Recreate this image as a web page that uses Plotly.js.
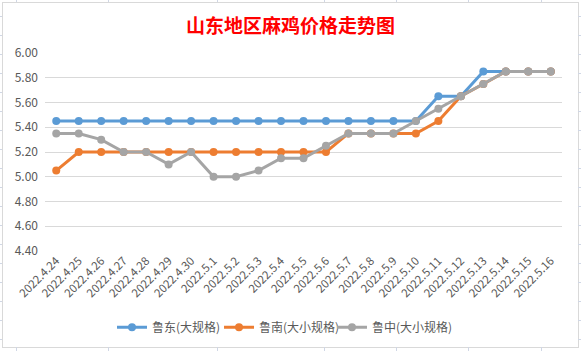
<!DOCTYPE html>
<html>
<head>
<meta charset="utf-8">
<script src="https://cdn.plot.ly/plotly-3.0.1.min.js"></script>
<style>
html,body{margin:0;padding:0;background:#fff;}
#wrap{position:relative;width:581px;height:351px;overflow:hidden;}
#chart{position:absolute;left:0;top:0;width:581px;height:351px;}
#frame{position:absolute;left:2px;top:2px;width:575px;height:344px;border:1px solid #d9d9d9;pointer-events:none;}
.st{position:absolute;background:#d0d7e5;}
</style>
</head>
<body>
<div id="wrap">
<div id="chart"></div>
<div id="frame"></div>
</div>
<script>
const dates = ["2022.4.24","2022.4.25","2022.4.26","2022.4.27","2022.4.28","2022.4.29","2022.4.30",
  "2022.5.1","2022.5.2","2022.5.3","2022.5.4","2022.5.5","2022.5.6","2022.5.7","2022.5.8","2022.5.9",
  "2022.5.10","2022.5.11","2022.5.12","2022.5.13","2022.5.14","2022.5.15","2022.5.16"];
const seriesNames = ["鲁东(大规格)","鲁南(大小规格)","鲁中(大小规格)"];
const ludong = [5.45,5.45,5.45,5.45,5.45,5.45,5.45,5.45,5.45,5.45,5.45,5.45,5.45,5.45,5.45,5.45,5.45,5.65,5.65,5.85,5.85,5.85,5.85];
const lunan  = [5.05,5.20,5.20,5.20,5.20,5.20,5.20,5.20,5.20,5.20,5.20,5.20,5.20,5.35,5.35,5.35,5.35,5.45,5.65,5.75,5.85,5.85,5.85];
const luzhong= [5.35,5.35,5.30,5.20,5.20,5.10,5.20,5.00,5.00,5.05,5.15,5.15,5.25,5.35,5.35,5.35,5.45,5.55,5.65,5.75,5.85,5.85,5.85];
const yTicks = [4.40,4.60,4.80,5.00,5.20,5.40,5.60,5.80,6.00];
const colors = ["#5B9BD5","#ED7D31","#A5A5A5"];

// decorative spreadsheet grid stubs outside the chart frame
(function(){
  const wrap = document.getElementById('wrap');
  const xs = [16,108,217,324,396,468,541];
  xs.forEach(x=>{
    [[0,2],[347,4]].forEach(([t,h])=>{
      const d=document.createElement('div');d.className='st';
      d.style.left=x+'px';d.style.top=t+'px';d.style.width='1px';d.style.height=h+'px';wrap.appendChild(d);
    });
  });
  for(let y=16;y<351;y+=19){
    [[0,2],[578,3]].forEach(([l,w])=>{
      const d=document.createElement('div');d.className='st';
      d.style.left=l+'px';d.style.top=y+'px';d.style.width=w+'px';d.style.height='1px';wrap.appendChild(d);
    });
  }
})();

const legendIds = ['legend','legend2','legend3'];
const ys = [ludong, lunan, luzhong];
const traces = ys.map((v,i)=>({
  type:'scatter', mode:'lines+markers', x:dates, y:v, name:seriesNames[i],
  legend:legendIds[i],
  line:{color:colors[i], width:3},
  marker:{color:colors[i], size:8, symbol:'circle'}
}));

const legendX = [0.1296, 0.3366, 0.5551];
const legBase = (x)=>({orientation:'h', x:x, xanchor:'left', yref:'container', y:0.068, yanchor:'middle',
    font:{size:12, color:'#595959'}, itemwidth:30, bgcolor:'rgba(0,0,0,0)'});

const layout = {
  width:581, height:351,
  margin:{l:45, r:19, t:53, b:100},
  paper_bgcolor:'rgba(0,0,0,0)', plot_bgcolor:'rgba(0,0,0,0)',
  font:{family:'"Noto Sans CJK SC", "Noto Sans", sans-serif', color:'#595959'},
  title:{text:'<b>山东地区麻鸡价格走势图</b>', x:0.5, xanchor:'center', y:0.925, yanchor:'middle',
    font:{family:'"Noto Sans CJK SC", serif', size:19, color:'#FF0000'}},
  xaxis:{type:'category', range:[-0.5,22.5], tickangle:-45, showgrid:false, zeroline:false,
    showline:false, ticks:'', tickfont:{size:11.5, color:'#595959'}, fixedrange:true, automargin:false},
  yaxis:{range:[4.40,6.00], tickvals:yTicks, ticktext:yTicks.map(v=>v.toFixed(2)),
    showgrid:true, gridcolor:'#d9d9d9', gridwidth:1, zeroline:false, showline:false, ticks:'',
    tickfont:{size:12, color:'#595959'}, ticklabelstandoff:6, fixedrange:true, automargin:false},
  legend:legBase(legendX[0]),
  legend2:legBase(legendX[1]),
  legend3:legBase(legendX[2]),
  showlegend:true
};
Plotly.newPlot('chart', traces, layout, {displayModeBar:false, staticPlot:true});
</script>
</body>
</html>
